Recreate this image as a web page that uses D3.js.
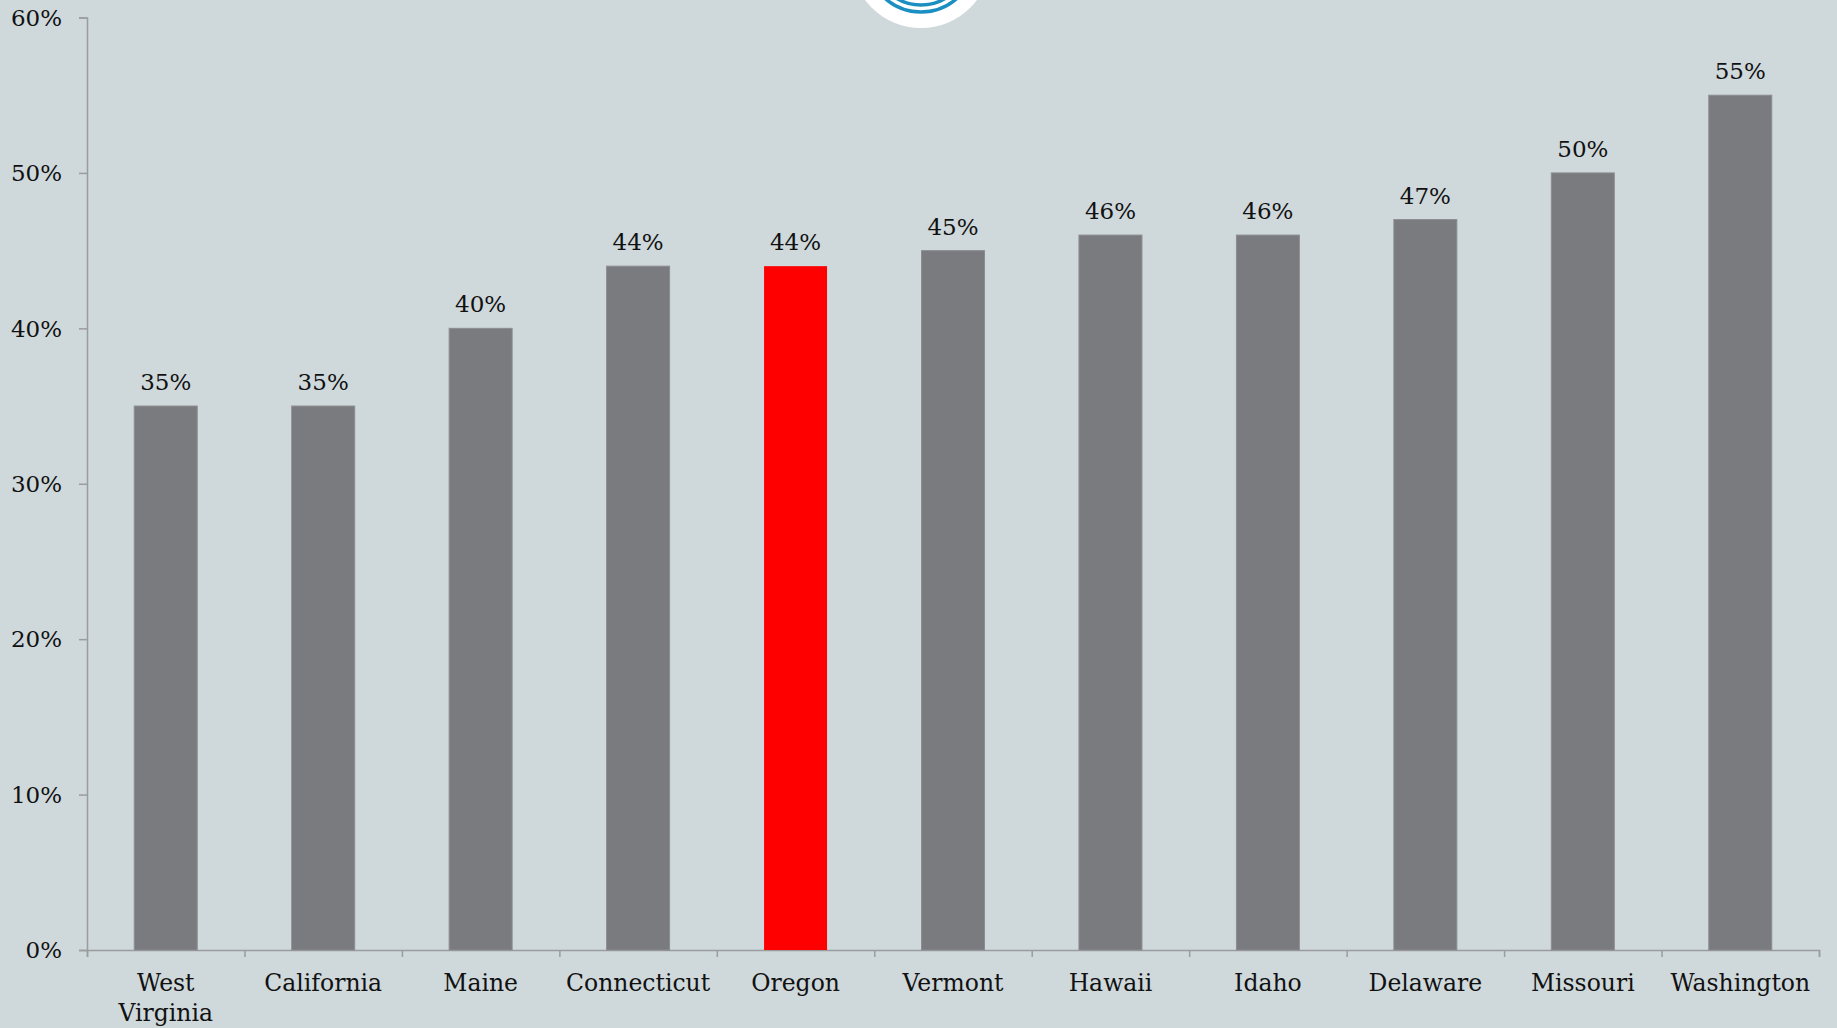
<!DOCTYPE html>
<html>
<head>
<meta charset="utf-8">
<script src="https://cdn.jsdelivr.net/npm/d3@7"></script>
<style>
  html, body { margin: 0; padding: 0; background: #cfd8db; }
  svg { display: block; }
  .axis path, .axis line { stroke: #9b9c9e; stroke-width: 1.5px; }
  .axis text { font-family: "DejaVu Serif", serif; font-size: 23px; fill: #111; }
  .cat text { font-size: 23.5px; }
  .val { font-family: "DejaVu Serif", serif; font-size: 23px; fill: #111; }
</style>
</head>
<body>
<script>
const W = 1837, H = 1028;
const margin = {left: 87, right: 18, top: 17.5, bottom: 78};

// data
const states = ["West Virginia", "California", "Maine", "Connecticut", "Oregon",
  "Vermont", "Hawaii", "Idaho", "Delaware", "Missouri", "Washington"];
const shares = [35, 35, 40, 44, 44, 45, 46, 46, 47, 50, 55];
const highlight = ["Oregon"];
const yTicks = [0, 10, 20, 30, 40, 50, 60];

const width = W - margin.left - margin.right;
const height = H - margin.top - margin.bottom;

const svg = d3.select("body").append("svg")
  .attr("width", W)
  .attr("height", H);

// logo at the top
const logo = svg.append("g").attr("transform", "translate(921,-42)");
logo.append("circle").attr("r", 70).attr("fill", "#fff");
logo.append("circle").attr("r", 54).attr("fill", "none").attr("stroke", "#1b8fc2").attr("stroke-width", 3.5);
logo.append("circle").attr("r", 47).attr("fill", "none").attr("stroke", "#1b8fc2").attr("stroke-width", 3.5);

const chartGroup = svg.append("g")
  .attr("transform", `translate(${margin.left},${margin.top})`);

const xScale = d3.scaleBand()
  .domain(states)
  .range([0, width])
  .paddingInner(0.6)
  .paddingOuter(0.3);

const yScale = d3.scaleLinear()
  .domain([0, 60])
  .range([height, 0]);

// boundary ticks on the x axis
const xEdges = d3.scaleLinear().domain([0, states.length]).range([0, width]);
chartGroup.append("g")
  .attr("class", "x axis")
  .attr("transform", `translate(0,${height})`)
  .call(d3.axisBottom(xEdges)
    .tickValues(d3.range(states.length + 1))
    .tickSize(7)
    .tickSizeOuter(7)
    .tickFormat(""));

// category labels
const xLabels = chartGroup.append("g")
  .attr("class", "axis cat")
  .attr("transform", `translate(0,${height})`)
  .call(d3.axisBottom(xScale).tickSize(0).tickFormat(""));
xLabels.select(".domain").remove();
xLabels.selectAll(".tick").each(function(d) {
  const t = d3.select(this).append("text")
    .attr("text-anchor", "middle")
    .attr("y", 41);
  d === "West Virginia"
    ? d.split(" ").forEach((w, i) => t.append("tspan").attr("x", 0).attr("dy", i ? 30 : 0).text(w))
    : t.text(d);
});

// y axis
chartGroup.append("g")
  .attr("class", "y axis")
  .call(d3.axisLeft(yScale)
    .tickValues(yTicks)
    .tickSize(8)
    .tickSizeOuter(8)
    .tickPadding(17)
    .tickFormat(d => d + "%"));
chartGroup.selectAll(".y.axis text").attr("dy", "0.34em");

// bars
chartGroup.selectAll(".bar")
  .data(states)
  .enter().append("rect")
  .attr("class", "bar")
  .attr("x", d => xScale(d))
  .attr("width", xScale.bandwidth())
  .attr("y", (d, i) => yScale(shares[i]))
  .attr("height", (d, i) => height - yScale(shares[i]))
  .attr("fill", d => highlight.includes(d) ? "#ff0000" : "#7a7b7e")
  .attr("stroke", d => highlight.includes(d) ? "none" : "#8c8d90")
  .attr("stroke-width", 1);

// value labels
chartGroup.selectAll(".val")
  .data(states)
  .enter().append("text")
  .attr("class", "val")
  .attr("text-anchor", "middle")
  .attr("x", d => xScale(d) + xScale.bandwidth() / 2)
  .attr("y", (d, i) => yScale(shares[i]) - 16)
  .text((d, i) => shares[i] + "%");
</script>
</body>
</html>
